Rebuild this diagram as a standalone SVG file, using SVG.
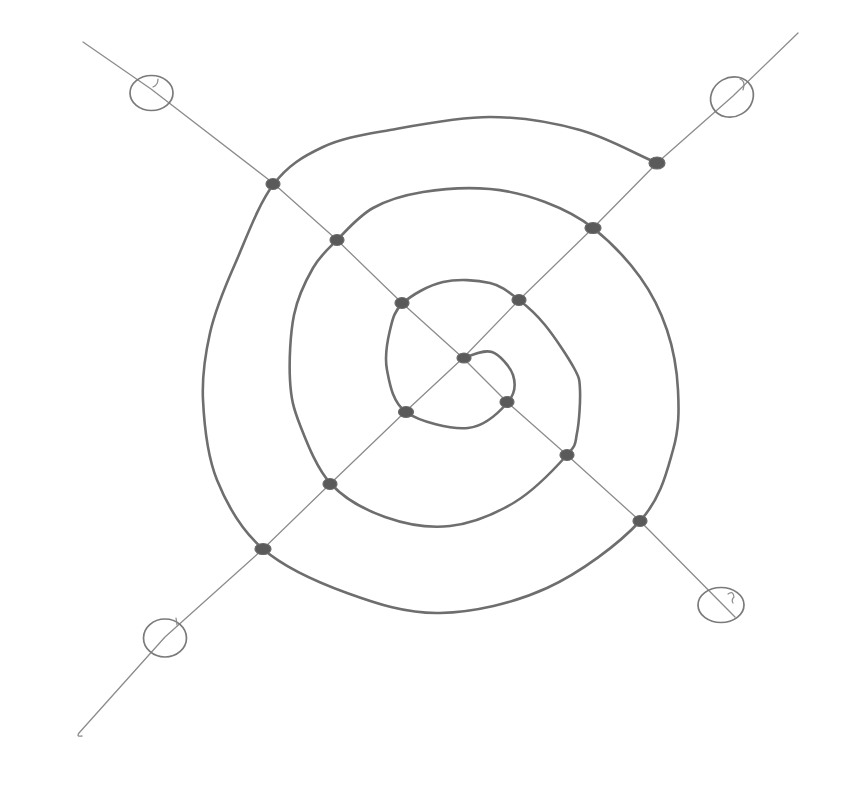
<svg xmlns="http://www.w3.org/2000/svg" width="859" height="787" viewBox="0 0 859 787">
<style>
.spiral{fill:none;stroke:#6e6e6e;stroke-width:2.6;stroke-linecap:round;stroke-linejoin:round}
.axis{fill:none;stroke:#8c8c8c;stroke-width:1.3;stroke-linecap:round;stroke-linejoin:round}
.ring{fill:none;stroke:#7a7a7a;stroke-width:1.7}
.tick{fill:none;stroke:#8a8a8a;stroke-width:1.2;stroke-linecap:round}
.dot{fill:#5a5a5a;stroke:#6a6a6a;stroke-width:1.2}
</style>
<rect width="859" height="787" fill="#ffffff"/>
<g id="axes">
<polyline class="axis" points="83,42 151,89 273,183 337,240 402,303 463,358 507,402 567,455 640,521 735,617"/>
<path class="axis" d="M798,33 L733,96 L657,163 L593,228 L519,300 L463,358 L405,412 L330,484 L263,549 L165,637 L79,733 Q76,737 82,736"/>
</g>
<g id="spiral">
<path class="spiral" d="M465,357 C474,355.3 484,349 492,352 C500,355 510.3,366.7 513,375 C515.7,383.3 515.5,393.2 508,402 C500.5,410.8 485,426.3 468,428 C451,429.7 419.5,421.7 406,412 C392.5,402.3 389.7,383.7 387,370 C384.3,356.3 387.3,341.2 390,330 C392.7,318.8 394.2,311 403,303 C411.8,295 428.5,285.3 443,282 C457.5,278.7 477.3,280 490,283 C502.7,286 509.8,293 519,300 C528.2,307 535.8,313.7 545,325 C554.2,336.3 568.2,357.2 574,368 C579.8,378.8 579.5,379.2 580,390 C580.5,400.8 579.2,422.2 577,433 C574.8,443.8 577.3,443.5 567,455 C556.7,466.5 534.5,490.2 515,502 C495.5,513.8 471.7,523.5 450,526 C428.3,528.5 404.8,524 385,517 C365.2,510 345.2,499.3 331,484 C316.8,468.7 306.8,442.3 300,425 C293.2,407.7 291,398.3 290,380 C289,361.7 290.2,333.7 294,315 C297.8,296.3 305.8,280.5 313,268 C320.2,255.5 327,250 337,240 C347,230 358.7,216 373,208 C387.3,200 403.5,195.2 423,192 C442.5,188.8 469.7,187.3 490,189 C510.3,190.7 527.8,195.5 545,202 C562.2,208.5 577.2,215.5 593,228 C608.8,240.5 627.7,260 640,277 C652.3,294 660.7,311.2 667,330 C673.3,348.8 677,370 678,390 C679,410 679.3,428.2 673,450 C666.7,471.8 661,498 640,521 C619,544 580.3,572.7 547,588 C513.7,603.3 473.3,612.2 440,613 C406.7,613.8 376.5,603.7 347,593 C317.5,582.3 284.7,567.8 263,549 C241.3,530.2 227,504.8 217,480 C207,455.2 204.2,424.5 203,400 C201.8,375.5 205,355.2 210,333 C215,310.8 223.5,290 235,264 C246.5,238 258,205 273,185 C288,165 303.5,156.2 323,147 C342.5,137.8 362.2,135 390,130 C417.8,125 458.3,117 490,117 C521.7,117 552.2,122.3 580,130 C607.8,137.7 631.3,152 657,163"/>
</g>
<g id="ends">
<ellipse class="ring" cx="151.5" cy="93" rx="21.5" ry="17.5"/>
<path class="tick" d="M153,87 Q158,85 158,79"/>
<ellipse class="ring" cx="732" cy="97" rx="22" ry="19.5" transform="rotate(-30 732 97)"/>
<path class="tick" d="M740,79 Q746,81 743,90"/>
<ellipse class="ring" cx="165" cy="638" rx="21.5" ry="19"/>
<path class="tick" d="M176,618 L177,625"/>
<ellipse class="ring" cx="721" cy="605" rx="23" ry="17.5"/>
<path class="tick" d="M728,594 Q733,590 734,597 Q731,600 733,603"/>
</g>
<g id="dots">
<ellipse class="dot" cx="273" cy="184" rx="7" ry="5.5"/>
<ellipse class="dot" cx="337" cy="240" rx="7" ry="5.5"/>
<ellipse class="dot" cx="402" cy="303" rx="7" ry="5.5"/>
<ellipse class="dot" cx="464" cy="358" rx="7" ry="5"/>
<ellipse class="dot" cx="507" cy="402" rx="7" ry="5.5"/>
<ellipse class="dot" cx="567" cy="455" rx="7" ry="5.5"/>
<ellipse class="dot" cx="640" cy="521" rx="7" ry="5.5"/>
<ellipse class="dot" cx="657" cy="163" rx="8" ry="6"/>
<ellipse class="dot" cx="593" cy="228" rx="8" ry="5.5"/>
<ellipse class="dot" cx="519" cy="300" rx="7" ry="5.5"/>
<ellipse class="dot" cx="406" cy="412" rx="7.5" ry="5.5"/>
<ellipse class="dot" cx="330" cy="484" rx="7" ry="5.5"/>
<ellipse class="dot" cx="263" cy="549" rx="8" ry="5.5"/>
</g>
</svg>
